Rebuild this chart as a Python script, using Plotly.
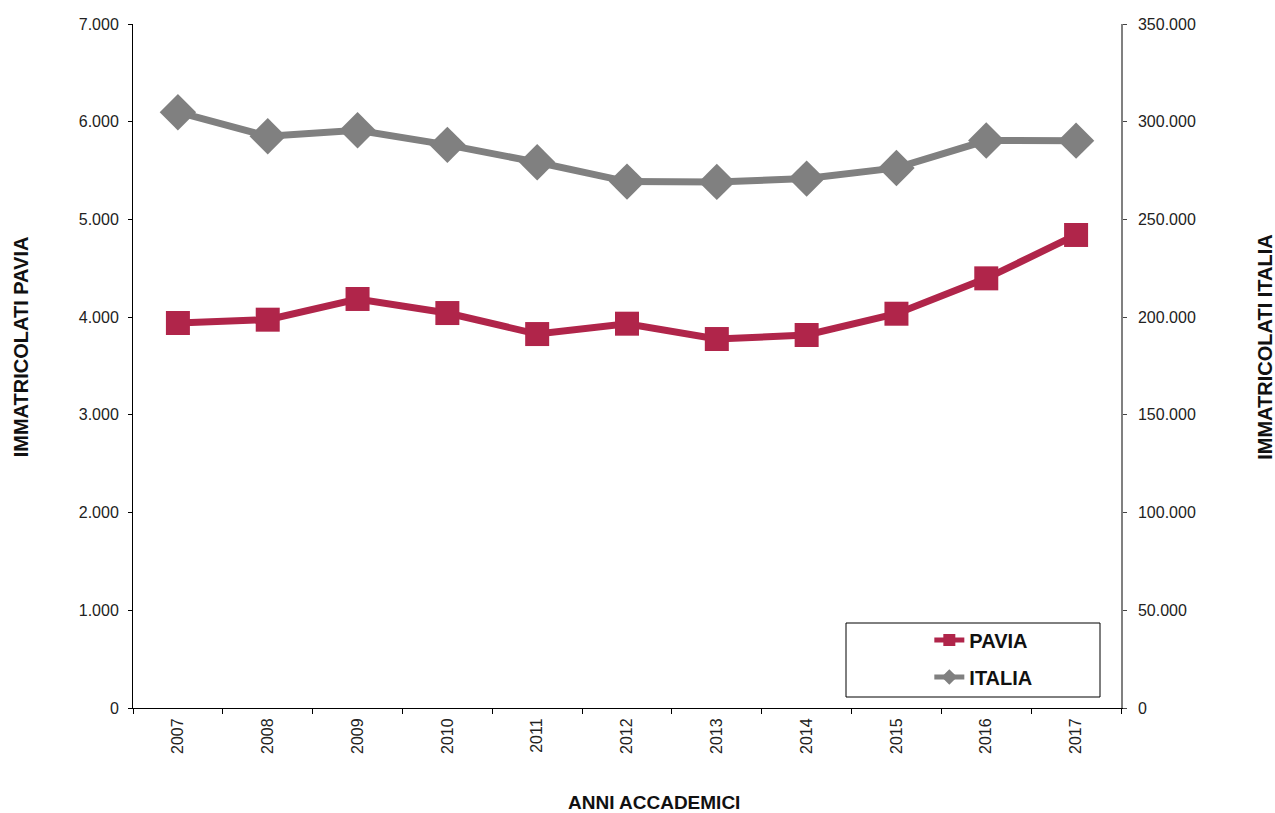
import plotly.graph_objects as go

# Academic years and enrolment counts
anni = ["2007", "2008", "2009", "2010", "2011", "2012", "2013", "2014", "2015", "2016", "2017"]
pavia = [3940, 3974, 4186, 4042, 3827, 3933, 3776, 3817, 4035, 4397, 4841]
italia = [304850, 292550, 295600, 288150, 279250, 269350, 269200, 270900, 276350, 290350, 290300]

left_ticks = [0, 1000, 2000, 3000, 4000, 5000, 6000, 7000]
right_ticks = [0, 50000, 100000, 150000, 200000, 250000, 300000, 350000]

RED = "#B0254A"
GREY = "#808080"
SANS = "Liberation Sans, Arial, sans-serif"

fig = go.Figure()
fig.add_trace(go.Scatter(
    x=anni, y=pavia, name="PAVIA", mode="lines+markers",
    line=dict(color=RED, width=7),
    marker=dict(symbol="square", size=24, color=RED),
    legendgroup="a", yaxis="y",
))
fig.add_trace(go.Scatter(
    x=anni, y=italia, name="ITALIA", mode="lines+markers",
    line=dict(color=GREY, width=7),
    marker=dict(symbol="diamond", size=28, color=GREY),
    legendgroup="b", yaxis="y2",
))

tick_font = dict(family=SANS, size=16, color="#222")
title_font = dict(family=SANS, size=20, color="#111", weight="bold")

fig.update_layout(
    width=1275, height=813,
    margin=dict(l=133, r=154, t=24, b=105),
    paper_bgcolor="white", plot_bgcolor="white",
    separators=",.",
    showlegend=True,
    legend=dict(
        x=0.806, y=0.128, xanchor="left", yanchor="top",
        bgcolor="rgba(0,0,0,0)", borderwidth=0,
        font=dict(family=SANS, size=20, color="#111", weight="bold"),
        tracegroupgap=8, itemsizing="constant",
    ),
    xaxis=dict(
        type="category", showgrid=False, showline=True, linecolor="black", linewidth=1,
        ticks="outside", ticklen=5, tickcolor="black", tickson="boundaries",
        tickangle=-90, tickfont=tick_font, ticklabelstandoff=3,
        range=[-0.5, 10.5], zeroline=False,
    ),
    yaxis=dict(
        range=[0, 7000], tickvals=left_ticks, tickformat=",d",
        showgrid=False, showline=True, linecolor="black", linewidth=1,
        ticks="outside", ticklen=4, tickcolor="black", tickfont=tick_font,
        ticklabelstandoff=6, zeroline=False,
    ),
    yaxis2=dict(
        range=[0, 350000], tickvals=right_ticks, tickformat=",d",
        overlaying="y", side="right", showgrid=False, showline=True,
        linecolor=GREY, linewidth=1.5, ticks="outside", ticklen=4, tickcolor="#444",
        tickfont=tick_font, ticklabelstandoff=8, zeroline=False,
    ),
    shapes=[dict(
        type="rect", xref="paper", yref="paper",
        x0=(846 - 133) / 988, x1=(1100 - 133) / 988,
        y0=(708 - 697) / 684, y1=(708 - 623) / 684,
        line=dict(color="black", width=1), fillcolor="rgba(0,0,0,0)",
    )],
    annotations=[
        dict(text="IMMATRICOLATI PAVIA", xref="paper", yref="paper",
             x=-0.1139, y=0.528, xanchor="center", yanchor="middle",
             textangle=-90, showarrow=False, font=title_font),
        dict(text="IMMATRICOLATI ITALIA", xref="paper", yref="paper",
             x=1.1457, y=0.528, xanchor="center", yanchor="middle",
             textangle=-90, showarrow=False, font=title_font),
        dict(text="ANNI ACCADEMICI", xref="paper", yref="paper",
             x=0.527, y=-0.138, xanchor="center", yanchor="middle",
             showarrow=False, font=dict(family=SANS, size=19, color="#111", weight="bold")),
    ],
)

fig.write_html("out.html")
